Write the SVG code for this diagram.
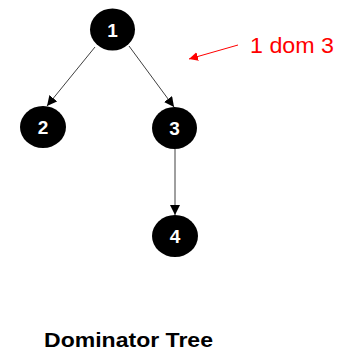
<svg xmlns="http://www.w3.org/2000/svg" width="350" height="352" viewBox="0 0 350 352">
  <style>
    .node ellipse { fill: #000; }
    .node text { fill: #fff; font-family: "Liberation Sans", Arial, sans-serif; font-weight: bold; font-size: 19px; text-anchor: middle; }
    .edge { stroke: #404040; stroke-width: 1; fill: none; marker-end: url(#arrow); }
    .note { stroke: #ff0000; stroke-width: 1; fill: none; marker-end: url(#arrowRed); }
  </style>
  <defs>
    <marker id="arrow" viewBox="0 0 10 10" refX="10" refY="5" markerWidth="10" markerHeight="10" markerUnits="userSpaceOnUse" orient="auto">
      <path d="M0,0 L10,5 L0,10 z" fill="#000"/>
    </marker>
    <marker id="arrowRed" viewBox="0 0 10 10" refX="10" refY="5" markerWidth="9" markerHeight="9" markerUnits="userSpaceOnUse" orient="auto">
      <path d="M0,0 L10,5 L0,10 z" fill="#ff0000"/>
    </marker>
  </defs>

  <g id="connectors">
    <line class="edge" x1="95" y1="47" x2="47" y2="106"/>
    <line class="edge" x1="129" y1="46" x2="174" y2="107"/>
    <line class="edge" x1="175" y1="149" x2="175" y2="215"/>
  </g>

  <g id="node-1" class="node">
    <ellipse cx="112.5" cy="29.5" rx="22.5" ry="21"/>
    <text x="112.5" y="36.5">1</text>
  </g>
  <g id="node-2" class="node">
    <ellipse cx="43" cy="127" rx="23" ry="21"/>
    <text x="43" y="134">2</text>
  </g>
  <g id="node-3" class="node">
    <ellipse cx="174.5" cy="128" rx="22.5" ry="21"/>
    <text x="174.5" y="135">3</text>
  </g>
  <g id="node-4" class="node">
    <ellipse cx="175" cy="236" rx="23" ry="21"/>
    <text x="175" y="243">4</text>
  </g>

  <g id="annotation">
    <line class="note" x1="238" y1="45" x2="189" y2="59"/>
    <text x="250" y="53" font-family="'Liberation Sans', Arial, sans-serif" font-size="22" fill="#ff0000" textLength="84" lengthAdjust="spacingAndGlyphs">1 dom 3</text>
  </g>

  <text id="title" x="44" y="347" font-family="'Liberation Sans', Arial, sans-serif" font-weight="bold" font-size="21" fill="#000" textLength="169" lengthAdjust="spacingAndGlyphs">Dominator Tree</text>
</svg>
